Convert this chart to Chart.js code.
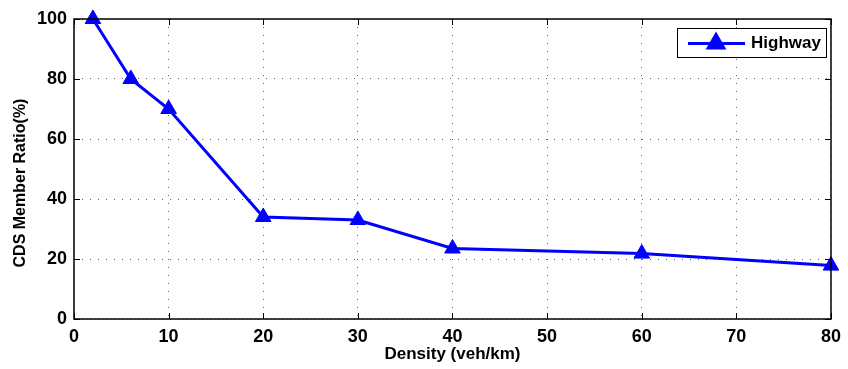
<!DOCTYPE html>
<html lang="en">
<head>
    <meta charset="UTF-8">
    <script src="https://cdn.jsdelivr.net/npm/chart.js"></script>
    <title>CDS member ratio</title>
    <style>
      body { margin: 0; background: #fff; }
      #wrap { width: 848px; height: 369px; }
    </style>
</head>
<body>
    <div id="wrap">
      <canvas id="myChart" width="848" height="369"></canvas>
    </div>

    <script>
      // values
      const density = [2, 6, 10, 20, 30, 40, 60, 80];
      const highway = [100, 80, 70, 34, 33, 23.5, 21.8, 17.8];
      const xTicks = [0, 10, 20, 30, 40, 50, 60, 70, 80];
      const yTicks = [0, 20, 40, 60, 80, 100];

      const FONT = 'Liberation Sans, Arial, sans-serif';
      const ctx = document.getElementById('myChart');

      // box, inward ticks, y label and the legend, MATLAB style
      const frame = {
        id: 'frame',
        afterDatasetsDraw(chart) {
          const c = chart.ctx;
          const a = chart.chartArea;
          const xs = chart.scales.x, ys = chart.scales.y;
          c.save();
          c.strokeStyle = '#000';
          c.lineWidth = 1.5;
          c.strokeRect(a.left, a.top, a.right - a.left, a.bottom - a.top);
          c.lineWidth = 1;
          c.beginPath();
          xTicks.forEach(v => {
            const px = Math.round(xs.getPixelForValue(v)) + 0.5;
            c.moveTo(px, a.bottom); c.lineTo(px, a.bottom - 6);
            c.moveTo(px, a.top); c.lineTo(px, a.top + 6);
          });
          yTicks.forEach(v => {
            const py = Math.round(ys.getPixelForValue(v)) + 0.5;
            c.moveTo(a.left, py); c.lineTo(a.left + 6, py);
            c.moveTo(a.right, py); c.lineTo(a.right - 6, py);
          });
          c.stroke();

          // y axis label
          c.fillStyle = '#000';
          c.font = 'bold 16px ' + FONT;
          c.textAlign = 'center';
          c.textBaseline = 'middle';
          c.translate(21, 183);
          c.rotate(-Math.PI / 2);
          c.fillText('CDS Member Ratio(%)', 0, 0);
          c.setTransform(1, 0, 0, 1, 0, 0);

          // legend
          const lx = 677, ly = 28, lw = 149, lh = 29;
          c.fillStyle = '#fff';
          c.fillRect(lx, ly, lw, lh);
          c.strokeStyle = '#000';
          c.lineWidth = 1;
          c.strokeRect(lx + 0.5, ly + 0.5, lw, lh);
          const my = ly + lh / 2 + 1;
          c.strokeStyle = '#0000ff';
          c.lineWidth = 3;
          c.beginPath();
          c.moveTo(688, my); c.lineTo(745, my);
          c.stroke();
          Chart.helpers.drawPoint(c, { pointStyle: 'triangle', radius: 9, rotation: 0, borderWidth: 1 }, 716, my);
          c.fillStyle = '#0000ff';
          c.fill();
          c.fillStyle = '#000';
          c.font = 'bold 17px ' + FONT;
          c.textAlign = 'left';
          c.fillText('Highway', 751, my);
          c.restore();
        }
      };

      new Chart(ctx, {
        type: 'line',
        data: {
          datasets: [{
            label: 'Highway',
            data: density.map((d, i) => ({ x: d, y: highway[i] })),
            borderColor: '#0000ff',
            backgroundColor: '#0000ff',
            borderWidth: 3,
            pointStyle: 'triangle',
            pointRadius: 9,
            pointBorderWidth: 1,
            tension: 0,
            clip: false
          }]
        },
        options: {
          responsive: false,
          animation: false,
          layout: { padding: { left: 0, top: 19, right: 13, bottom: 0 } },
          plugins: { legend: { display: false }, tooltip: { enabled: false } },
          scales: {
            x: {
              type: 'linear',
              min: 0, max: 80,
              afterBuildTicks: s => { s.ticks = xTicks.map(v => ({ value: v })); },
              afterFit: s => { s.height = 50; },
              grid: {
                color: '#666',
                lineWidth: 1,
                drawTicks: false
              },
              border: { display: false, dash: [1, 7] },
              ticks: {
                color: '#000',
                padding: 7,
                font: { family: FONT, size: 18, weight: 'bold' }
              },
              title: {
                display: true,
                text: 'Density (veh/km)',
                color: '#000',
                padding: { top: 0, bottom: 4 },
                font: { family: FONT, size: 17, weight: 'bold' }
              }
            },
            y: {
              min: 0, max: 100,
              afterBuildTicks: s => { s.ticks = yTicks.map(v => ({ value: v })); },
              afterFit: s => { s.width = 74; },
              grid: {
                color: '#666',
                lineWidth: 1,
                drawTicks: false
              },
              border: { display: false, dash: [1, 7] },
              ticks: {
                color: '#000',
                padding: 7,
                font: { family: FONT, size: 18, weight: 'bold' }
              }
            }
          }
        },
        plugins: [frame]
      });
    </script>
 </body>
</html>
